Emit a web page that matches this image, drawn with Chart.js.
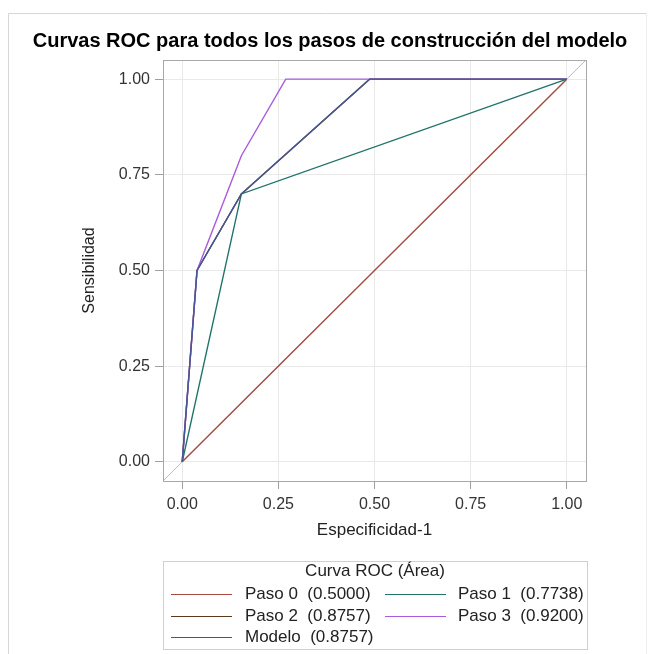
<!DOCTYPE html>
<html lang="es">
<head>
  <meta charset="UTF-8" />
  <title>Curvas ROC</title>
  <script src="https://cdn.jsdelivr.net/npm/chart.js"></script>
  <style>
    html, body { margin: 0; padding: 0; background: #fff; }
    #wrap { width: 651px; height: 654px; position: relative; }
  </style>
</head>
<body>
  <div id="wrap"><canvas id="roc" width="651" height="654"></canvas></div>

  <script>
    // puntos (1-especificidad, sensibilidad) de cada curva
    const fprPaso0 = [0, 1];
    const sensPaso0 = [0, 1];
    const fprPaso1 = [0, 0.1538, 1];
    const sensPaso1 = [0, 0.70, 1];
    const fprPaso2 = [0, 0.0385, 0.1538, 0.4872, 1];
    const sensPaso2 = [0, 0.50, 0.70, 1, 1];
    const fprPaso3 = [0, 0.0385, 0.1538, 0.2692, 1];
    const sensPaso3 = [0, 0.50, 0.80, 1, 1];
    const fprModelo = [0, 0.0385, 0.1538, 0.4872, 1];
    const sensModelo = [0, 0.50, 0.70, 1, 1];
    const diagRef = [-0.05, 1.05];

    const curveNames = ['Paso 0', 'Paso 1', 'Paso 2', 'Paso 3', 'Modelo'];
    const curveAreas = ['0.5000', '0.7738', '0.8757', '0.9200', '0.8757'];
    const curveColors = ['#A84A40', '#1F736B', '#5A3A1A', '#A95ADF', '#445694'];
    const tickValues = [0, 0.25, 0.5, 0.75, 1];

    const FONT = "'Liberation Sans', Arial, sans-serif";

    function pts(xs, ys) { return xs.map((x, i) => ({ x: x, y: ys[i] })); }

    const curves = [
      pts(fprPaso0, sensPaso0), pts(fprPaso1, sensPaso1), pts(fprPaso2, sensPaso2),
      pts(fprPaso3, sensPaso3), pts(fprModelo, sensModelo)
    ];

    const datasets = curves.map((d, i) => ({
      label: curveNames[i] + '  (' + curveAreas[i] + ')',
      data: d,
      showLine: true,
      borderColor: curveColors[i],
      borderWidth: 1.4,
      pointRadius: 0,
      order: 5 - i
    }));
    datasets.push({
      label: 'ref',
      data: pts(diagRef, diagRef),
      showLine: true,
      borderColor: '#bdbdbd',
      borderWidth: 1,
      pointRadius: 0,
      order: 10
    });

    // marco, titulo y leyenda
    const extras = {
      id: 'extras',
      beforeDraw(chart) {
        const ctx = chart.ctx;
        ctx.save();
        ctx.strokeStyle = '#d6d6d6';
        ctx.lineWidth = 1;
        ctx.beginPath();
        ctx.moveTo(8.5, 654); ctx.lineTo(8.5, 13.5); ctx.lineTo(646.5, 13.5);
        ctx.stroke();
        ctx.strokeStyle = '#eeeeee';
        ctx.beginPath(); ctx.moveTo(646.5, 13.5); ctx.lineTo(646.5, 654); ctx.stroke();
        ctx.fillStyle = '#000';
        ctx.font = 'bold 20px ' + FONT;
        ctx.textAlign = 'center';
        ctx.textBaseline = 'alphabetic';
        ctx.fillText('Curvas ROC para todos los pasos de construcción del modelo', 330, 47);
        ctx.restore();
      },
      afterDraw(chart) {
        const ctx = chart.ctx;
        const a = chart.chartArea;
        ctx.save();
        ctx.strokeStyle = '#a8a8a8';
        ctx.lineWidth = 1;
        ctx.strokeRect(Math.round(a.left) + 0.5, Math.round(a.top) + 0.5,
          Math.round(a.right - a.left), Math.round(a.bottom - a.top));

        // leyenda
        const bx = 163.5, by = 561.5, bw = 424, bh = 88;
        ctx.strokeStyle = '#d0d0d0';
        ctx.strokeRect(bx, by, bw, bh);
        ctx.fillStyle = '#222';
        ctx.font = '17px ' + FONT;
        ctx.textAlign = 'center';
        ctx.textBaseline = 'middle';
        ctx.fillText('Curva ROC (Área)', 375, 571);
        ctx.textAlign = 'left';
        const colLine = [171, 385], colText = [245, 458], rowY = [594, 616, 637];
        chart.data.datasets.forEach((ds, i) => {
          if (ds.label === 'ref') return;
          const c = i % 2, r = Math.floor(i / 2);
          ctx.strokeStyle = ds.borderColor;
          ctx.lineWidth = 1.2;
          ctx.beginPath();
          ctx.moveTo(colLine[c], rowY[r] + 0.5);
          ctx.lineTo(colLine[c] + 61, rowY[r] + 0.5);
          ctx.stroke();
          ctx.fillStyle = '#222';
          ctx.fillText(ds.label, colText[c], rowY[r]);
        });
        ctx.restore();
      }
    };

    const tickFmt = v => Number(v).toFixed(2);

    new Chart(document.getElementById('roc'), {
      type: 'scatter',
      data: { datasets: datasets },
      options: {
        responsive: false,
        animation: false,
        events: [],
        layout: { padding: { left: 80, right: 65, top: 60, bottom: 113 } },
        plugins: { legend: { display: false }, tooltip: { enabled: false }, title: { display: false } },
        scales: {
          x: {
            type: 'linear',
            min: -0.05, max: 1.05,
            afterFit(scale) { scale.height = 60; },
            afterBuildTicks(scale) { scale.ticks = tickValues.map(v => ({ value: v })); },
            ticks: { callback: tickFmt, color: '#333', padding: 6, maxRotation: 0, font: { family: FONT, size: 16 } },
            grid: { color: '#e9e9e9', tickColor: '#a0a0a0', tickLength: 8 },
            border: { color: '#a8a8a8' },
            title: { display: true, text: 'Especificidad-1', color: '#222', padding: 0, font: { family: FONT, size: 17 } }
          },
          y: {
            type: 'linear',
            min: -0.05, max: 1.05,
            afterFit(scale) { scale.width = 83; },
            afterBuildTicks(scale) { scale.ticks = tickValues.map(v => ({ value: v })); },
            ticks: { callback: tickFmt, color: '#333', padding: 5, font: { family: FONT, size: 16 } },
            grid: { color: '#e9e9e9', tickColor: '#a0a0a0', tickLength: 8 },
            border: { color: '#a8a8a8' },
            title: { display: true, text: 'Sensibilidad', color: '#222', padding: 0, font: { family: FONT, size: 16 } }
          }
        }
      },
      plugins: [extras]
    });
  </script>
</body>
</html>
